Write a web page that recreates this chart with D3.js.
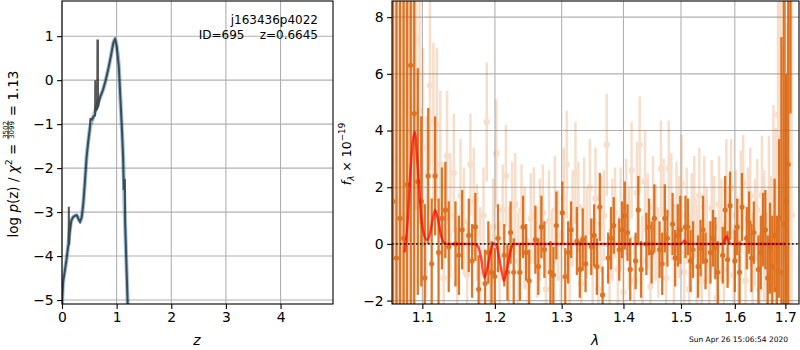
<!DOCTYPE html>
<html>
<head>
<meta charset="utf-8">
<script src="https://cdn.jsdelivr.net/npm/d3@7"></script>
<style>
  body { margin: 0; background: #fff; }
  text { font-family: 'DejaVu Sans', sans-serif; }
</style>
</head>
<body>
<svg id="fig" width="800" height="350"></svg>
<script>
// ---- left panel: log p(z) ----
const pzZ = [0, 0.02, 0.05, 0.08, 0.11, 0.14, 0.17, 0.2, 0.24, 0.27, 0.3, 0.33, 0.36, 0.39, 0.42, 0.45, 0.48, 0.51,
  0.55, 0.6, 0.65, 0.7, 0.75, 0.8, 0.85, 0.9, 0.94, 0.97, 1.0, 1.04, 1.07, 1.1, 1.12, 1.15, 1.18, 1.21];
const pzSmooth = [-5.1, -4.6, -4.35, -4.1, -3.8, -3.45, -3.2, -3.12, -3.08, -3.07, -3.15, -3.22, -3.12, -2.8, -2.3, -1.75, -1.4, -1.1,
  -0.92, -0.74, -0.55, -0.38, -0.22, 0.0, 0.27, 0.58, 0.85, 0.93, 0.78, 0.31, -0.45, -1.2, -1.81, -3.1, -4.23, -5.4];
const chiZ = [0, 0.02, 0.05, 0.08, 0.11, 0.12, 0.125, 0.13, 0.14, 0.17, 0.2, 0.24, 0.27, 0.3, 0.33, 0.36, 0.39, 0.42, 0.45, 0.48,
  0.51, 0.52, 0.53, 0.55, 0.58, 0.605, 0.608, 0.615, 0.645, 0.648, 0.658, 0.66, 0.68, 0.7, 0.75, 0.8, 0.85, 0.9, 0.94, 0.97,
  1.0, 1.04, 1.07, 1.1, 1.12, 1.13, 1.135, 1.15, 1.155, 1.18, 1.21];
const chiLogp = [-5.1, -4.6, -4.35, -4.1, -3.8, -3.75, -2.88, -3.75, -3.48, -3.2, -3.12, -3.08, -3.07, -3.15, -3.22, -3.12, -2.8, -2.3, -1.75, -1.4,
  -1.1, -0.86, -0.9, -0.9, -0.82, -0.8, 0.0, -0.7, -0.65, 0.9, 0.9, -0.62, -0.48, -0.38, -0.22, 0.0, 0.27, 0.58, 0.85, 0.93,
  0.78, 0.31, -0.45, -1.2, -1.81, -2.5, -2.27, -2.27, -3.2, -4.23, -5.4];
const zTicks = [0, 1, 2, 3, 4];
const pTicks = [-5, -4, -3, -2, -1, 0, 1];

// ---- right panel: spectrum ----
const darkLam = [1.0618, 1.0664, 1.0710, 1.0756, 1.0802, 1.0848, 1.0894, 1.0940, 1.0986, 1.1032,
  1.1078, 1.1124, 1.1170, 1.1216, 1.1262, 1.1308, 1.1354, 1.1446, 1.1492, 1.1538,
  1.1630, 1.1676, 1.1722, 1.1768, 1.1860, 1.1906, 1.1952, 1.1998, 1.2044, 1.2136,
  1.2182, 1.2228, 1.2274, 1.2366, 1.2412, 1.2458, 1.2504, 1.2596, 1.2642, 1.2688,
  1.2734, 1.2826, 1.2872, 1.2918, 1.3010, 1.3056, 1.3102, 1.3148, 1.3240, 1.3286,
  1.3332, 1.3378, 1.3470, 1.3516, 1.3562, 1.3608, 1.3654, 1.3746, 1.3792, 1.3838,
  1.3930, 1.3976, 1.4022, 1.4068, 1.4114, 1.4206, 1.4252, 1.4298, 1.4390, 1.4436,
  1.4482, 1.4528, 1.4620, 1.4666, 1.4712, 1.4758, 1.4850, 1.4896, 1.4942, 1.4988,
  1.5080, 1.5126, 1.5172, 1.5218, 1.5310, 1.5356, 1.5402, 1.5448, 1.5540, 1.5586,
  1.5632, 1.5678, 1.5770, 1.5816, 1.5862, 1.5908, 1.6000, 1.6046, 1.6092, 1.6138,
  1.6230, 1.6276, 1.6322, 1.6368, 1.6460, 1.6506, 1.6552, 1.6598, 1.6644, 1.6690,
  1.6736, 1.6782, 1.6828, 1.6874, 1.6920, 1.6966, 1.7012, 1.7058, 1.7104];
const darkFlux = [1.5, -0.5, 0.9, 0.2, 2.1, 6.3, 4.6, 2.2, 1.5, -1.2,
  2.4, -0.7, 2.4, -0.3, 0.9, 1.2, -0.1, 0.0, -0.4, 0.5,
  0.3, -0.6, 0.6, -1.6, -1.4, -0.3, -1.0, -1.15, 0.2, -0.4,
  -1.0, 0.4, -1.0, -1.0, 0.6, -0.3, -1.3, 0.15, -0.8, 0.6,
  -0.2, -1.0, -1.1, 0.65, 1.1, -1.15, -0.3, 0.5, 0.1, -0.9,
  0.15, -0.7, -0.1, 0.3, -0.8, 1.3, -1.8, -0.5, 0.2, 0.65,
  -0.2, 0.5, 1.0, 0.4, -0.9, -0.6, 1.2, -0.9, 0.0, 0.6,
  -0.3, 0.9, -0.2, -0.7, 0.9, 0.2, 0.7, -0.5, 0.3, 0.5,
  0.6, 0.6, -0.6, -0.2, -0.8, -0.15, 0.5, -0.6, -0.3, 0.2,
  -0.15, -1.0, -0.4, 1.2, -0.55, 1.35, -0.6, 0.6, -1.0, 1.3,
  0.2, 0.75, -0.5, 0.4, -0.9, -0.3, 0.5, 0.5, -1.2, -0.15,
  -0.8, 0.3, -1.6, 0.9, -1.0, 0.7, 1.5, 2.8, 10.5];
const darkErr = [12, 12, 12, 11, 10, 9, 7, 4, 3, 2.6,
  2.4, 2.3, 2.1, 1.9, 1.8, 1.7, 1.6, 1.5, 1.4, 1.4,
  1.3, 1.3, 1.2, 1.2, 1.2, 1.1, 1.1, 1.0, 1.2, 1.1,
  1.0, 1.1, 1.2, 1.0, 1.1, 1.0, 1.1, 1.2, 1.0, 1.1,
  1.0, 1.1, 1.0, 1.2, 1.1, 1.0, 1.1, 1.0, 1.2, 1.0,
  1.1, 1.0, 1.0, 1.1, 1.0, 1.2, 1.0, 0.9, 1.1, 1.0,
  1.1, 1.0, 1.2, 1.0, 1.1, 1.0, 1.2, 1.0, 1.1, 1.0,
  1.1, 1.2, 1.0, 1.1, 1.2, 1.0, 1.1, 1.0, 1.1, 1.2,
  1.1, 1.0, 1.1, 1.0, 1.1, 1.0, 1.2, 1.0, 1.1, 1.0,
  1.1, 1.1, 1.0, 1.2, 1.0, 1.2, 1.1, 1.0, 1.1, 1.2,
  1.1, 1.1, 1.2, 1.1, 1.2, 1.3, 1.3, 1.4, 1.5, 1.6,
  1.8, 2.0, 2.6, 2.8, 8.3, 9, 4.5, 9, 5.9];

const lightLam = [1.0641, 1.0687,
  1.0733, 1.0779, 1.0825, 1.0871, 1.0917, 1.0963, 1.1009, 1.1055, 1.1101, 1.1147,
  1.1193, 1.1239, 1.1285, 1.1331, 1.1377, 1.1423, 1.1469, 1.1515, 1.1561, 1.1607,
  1.1653, 1.1699, 1.1745, 1.1791, 1.1837, 1.1883, 1.1929, 1.1975, 1.2021, 1.2067,
  1.2113, 1.2159, 1.2205, 1.2251, 1.2297, 1.2343, 1.2389, 1.2435, 1.2481, 1.2527,
  1.2573, 1.2619, 1.2665, 1.2711, 1.2757, 1.2803, 1.2849, 1.2895, 1.2941, 1.2987,
  1.3033, 1.3079, 1.3125, 1.3171, 1.3217, 1.3263, 1.3309, 1.3355, 1.3401, 1.3447,
  1.3493, 1.3539, 1.3585, 1.3631, 1.3677, 1.3723, 1.3769, 1.3815, 1.3861, 1.3907,
  1.3953, 1.3999, 1.4045, 1.4091, 1.4137, 1.4183, 1.4229, 1.4275, 1.4321, 1.4367,
  1.4413, 1.4459, 1.4505, 1.4551, 1.4597, 1.4643, 1.4689, 1.4735, 1.4781, 1.4827,
  1.4873, 1.4919, 1.4965, 1.5011, 1.5057, 1.5103, 1.5149, 1.5195, 1.5241, 1.5287,
  1.5333, 1.5379, 1.5425, 1.5471, 1.5517, 1.5563, 1.5609, 1.5655, 1.5701, 1.5747,
  1.5793, 1.5839, 1.5885, 1.5931, 1.5977, 1.6023, 1.6069, 1.6115, 1.6161, 1.6207,
  1.6253, 1.6299, 1.6345, 1.6391, 1.6437, 1.6483, 1.6529, 1.6575, 1.6621, 1.6667,
  1.6713, 1.6759, 1.6805, 1.6851, 1.6897, 1.6943, 1.6989, 1.7035, 1.7081, 1.7127];
const lightFlux = [3.0, 6.0,
  5.0, 5.3, 8.1, 4.9, 7.2, 4.7, 3.4, 1.3, 5.6, 4.3,
  4.2, 2.8, -1.2, 3.1, 1.0, 2.5, -1.4, 1.7, 0.8, -1.1,
  2.8, 1.5, 0.4, -0.5, 1.0, 4.3, -1.3, 0.6, 3.2, -0.9,
  1.2, 2.4, -0.4, 1.3, 1.4, -0.6, 1.2, 0.2, -1.5, 0.9,
  1.0, -0.3, 0.5, 1.1, -1.6, 0.8, -0.5, 1.2, 0.3, -1.2,
  1.6, 2.8, -0.7, 0.9, 2.5, 1.3, -1.4, 1.25, 0.4, 2.0,
  -0.8, 1.6, -1.6, 0.7, 1.0, 3.5, -1.15, 0.5, 1.1, -0.9,
  0.9, -1.7, 1.3, 0.2, 2.6, -1.3, 1.8, 3.5, -0.6, 2.2,
  0.8, -1.5, 1.3, 0.4, -0.3, 2.65, 1.2, -1.2, 2.65, 1.4,
  -0.5, 1.3, 0.6, 2.15, -1.0, 1.0, -1.6, 0.8, 1.5, -0.4,
  1.7, -1.3, 1.3, 0.3, -0.8, 1.26, 0.6, -1.9, 1.4, 0.5,
  -0.9, 1.9, 0.2, 2.0, -1.1, 1.0, -0.5, 1.5, 2.15, -1.3,
  0.9, 1.7, -0.7, 0.4, 1.2, -1.6, 1.72, 0.3, -1.4, 1.0,
  -0.6, 1.6, 0.5, 4.55, 5.4, 2.0, 5.5, 0.8, 3.0, 1.0];
const lightErr = [10, 10,
  10, 9, 8, 7, 6, 4, 3.5, 3.2, 3.0, 2.8,
  2.7, 2.6, 2.4, 2.3, 2.2, 2.1, 2.0, 2.0, 1.9, 1.9,
  1.8, 1.9, 1.7, 1.8, 1.7, 2.1, 1.8, 1.7, 1.9, 1.7,
  1.6, 1.8, 1.7, 1.6, 1.8, 1.7, 1.6, 1.8, 1.7, 1.6,
  1.7, 1.6, 1.8, 1.7, 1.6, 1.8, 1.7, 1.9, 1.6, 1.7,
  1.8, 1.9, 1.6, 1.7, 1.8, 1.6, 1.7, 1.8, 1.6, 1.7,
  1.7, 1.8, 1.6, 1.7, 1.6, 1.8, 1.7, 1.8, 1.6, 1.7,
  1.8, 1.6, 1.7, 1.8, 1.7, 1.6, 1.8, 1.7, 1.6, 1.8,
  1.7, 1.6, 1.8, 1.7, 1.6, 1.7, 1.8, 1.6, 1.7, 1.8,
  1.7, 1.6, 1.8, 1.7, 1.6, 1.7, 1.8, 1.7, 1.6, 1.8,
  1.7, 1.6, 1.8, 1.7, 1.6, 1.7, 1.8, 1.6, 1.7, 1.8,
  1.7, 1.8, 1.6, 1.7, 1.8, 1.6, 1.7, 1.8, 1.7, 1.6,
  1.8, 1.7, 1.8, 1.9, 1.8, 2.0, 2.1, 2.3, 2.5, 2.8,
  3.0, 3.3, 3.6, 4.0, 4.5, 5.0, 6.0, 7.0, 8.0, 9.0];

const modelLam = [1.077, 1.081, 1.085, 1.090, 1.094, 1.098, 1.102, 1.106, 1.110, 1.114, 1.117, 1.121, 1.125, 1.130, 1.135,
  1.171, 1.176, 1.180, 1.185, 1.190, 1.195, 1.198, 1.202, 1.206, 1.210, 1.213, 1.218, 1.223, 1.228, 1.233,
  1.500, 1.503, 1.506, 1.509, 1.512, 1.577, 1.580, 1.584, 1.588, 1.592, 1.700];
const modelFlux = [-0.3, 0.9, 2.8, 3.95, 2.7, 1.1, 0.35, 0.15, 0.35, 0.9, 1.2, 0.85, 0.3, 0.02, 0,
  0, -0.1, -0.45, -1.2, -0.75, -0.15, 0.02, -0.05, -0.45, -1.0, -1.3, -0.8, -0.2, 0.0, 0,
  0, 0.05, 0.12, 0.05, 0, 0, 0.1, 0.27, 0.12, 0, 0];
const lamTicks = [1.1, 1.2, 1.3, 1.4, 1.5, 1.6, 1.7];
const fluxTicks = [-2, 0, 2, 4, 6, 8];

const FS = 13.9;
const GRID = '#b0b0b0';
const ORANGE = '#d95f02';
const svg = d3.select('#fig');
const defs = svg.append('defs');

function clip(id, x0, y0, x1, y1) {
  defs.append('clipPath').attr('id', id)
    .append('rect').attr('x', x0).attr('y', y0).attr('width', x1 - x0).attr('height', y1 - y0);
}

function drawGrid(g, x, y, xt, yt, box) {
  g.selectAll('.gx').data(xt).enter().append('line')
    .attr('x1', d => x(d)).attr('x2', d => x(d)).attr('y1', box.y0).attr('y2', box.y1)
    .attr('stroke', GRID).attr('stroke-width', 1.1);
  g.selectAll('.gy').data(yt).enter().append('line')
    .attr('x1', box.x0).attr('x2', box.x1).attr('y1', d => y(d)).attr('y2', d => y(d))
    .attr('stroke', GRID).attr('stroke-width', 1.1);
}

function styleAxis(g) {
  g.select('.domain').remove();
  g.selectAll('.tick line').attr('stroke', '#000').attr('stroke-width', 1.1);
  g.selectAll('.tick text').attr('font-size', FS).attr('fill', '#000')
    .attr('font-family', 'DejaVu Sans');
}

function drawAxes(x, y, xt, yt, box, xfmt, yfmt) {
  svg.append('g').attr('transform', `translate(0,${box.y1})`)
    .call(d3.axisBottom(x).tickValues(xt).tickFormat(xfmt).tickSize(4.9).tickPadding(3.5))
    .call(styleAxis);
  svg.append('g').attr('transform', `translate(${box.x0},0)`)
    .call(d3.axisLeft(y).tickValues(yt).tickFormat(yfmt).tickSize(4.9).tickPadding(3.5))
    .call(styleAxis);
  svg.append('rect').attr('x', box.x0).attr('y', box.y0)
    .attr('width', box.x1 - box.x0).attr('height', box.y1 - box.y0)
    .attr('fill', 'none').attr('stroke', '#000').attr('stroke-width', 1.1);
}

// ===== left panel =====
const L = { x0: 62, x1: 333, y0: 1, y1: 304 };
const xz = d3.scaleLinear().domain([0, 4.96]).range([L.x0, L.x1]);
const yp = d3.scaleLinear().domain([-5.09, 1.8]).range([L.y1, L.y0]);
clip('clipL', L.x0, L.y0, L.x1, L.y1);

drawGrid(svg.append('g'), xz, yp, zTicks, pTicks, L);
const gl = svg.append('g').attr('clip-path', 'url(#clipL)');
gl.append('path')
  .datum(pzZ.map((z, i) => [z, pzSmooth[i]]))
  .attr('d', d3.line().x(d => xz(d[0])).y(d => yp(d[1])).curve(d3.curveMonotoneX))
  .attr('fill', 'none').attr('stroke', '#1f77b4').attr('stroke-opacity', 0.45).attr('stroke-width', 4);
gl.append('path')
  .datum(chiZ.map((z, i) => [z, chiLogp[i]]))
  .attr('d', d3.line().x(d => xz(d[0])).y(d => yp(d[1])))
  .attr('fill', 'none').attr('stroke', '#222').attr('stroke-opacity', 0.75).attr('stroke-width', 2);
drawAxes(xz, yp, zTicks, pTicks, L, d3.format('d'), d3.format('d'));

svg.append('text').attr('x', 318).attr('y', 24).attr('text-anchor', 'end')
  .attr('font-size', 12).text('j163436p4022');
svg.append('text').attr('x', 318).attr('y', 39).attr('text-anchor', 'end')
  .attr('font-size', 12).style('white-space', 'pre').text('ID=695    z=0.6645');

svg.append('text').attr('x', 197).attr('y', 345).attr('text-anchor', 'middle')
  .attr('font-size', FS).attr('font-style', 'italic').text('z');

// y label with the chi-square fraction
const LFS = 13.5;
const yl = svg.append('g');
const t1 = yl.append('text').attr('font-size', LFS).style('white-space', 'pre');
t1.append('tspan').text('log ');
t1.append('tspan').attr('font-style', 'italic').text('p');
t1.append('tspan').text('(z) / ');
t1.append('tspan').attr('font-style', 'italic').text('χ');
t1.append('tspan').attr('font-size', 9.4).attr('dy', -5.5).text('2');
t1.append('tspan').attr('dy', 5.5).text(' = ');
const w1 = t1.node().getComputedTextLength();
const num = yl.append('text').attr('font-size', 7).attr('text-anchor', 'middle').text('3502');
const den = yl.append('text').attr('font-size', 7).attr('text-anchor', 'middle').text('3099');
const fw = Math.max(num.node().getComputedTextLength(), den.node().getComputedTextLength()) + 1;
num.attr('x', w1 + fw / 2).attr('y', -10);
den.attr('x', w1 + fw / 2).attr('y', -3.7);
yl.append('line').attr('x1', w1).attr('x2', w1 + fw).attr('y1', -9.3).attr('y2', -9.3)
  .attr('stroke', '#000').attr('stroke-width', 0.7);
const t3 = yl.append('text').attr('font-size', LFS).attr('x', w1 + fw).style('white-space', 'pre').text(' = 1.13');
const wTot = w1 + fw + t3.node().getComputedTextLength();
yl.attr('transform', `translate(17.5,${154 + wTot / 2}) rotate(-90)`);

// ===== right panel =====
const R = { x0: 392, x1: 799, y0: 1, y1: 304 };
const xl = d3.scaleLog().domain([1.0607, 1.728]).range([R.x0, R.x1]);
const yf = d3.scaleLinear().domain([-2.12, 8.57]).range([R.y1, R.y0]);
clip('clipR', R.x0, R.y0, R.x1, R.y1);

drawGrid(svg.append('g'), xl, yf, lamTicks, fluxTicks, R);
const gr = svg.append('g').attr('clip-path', 'url(#clipR)');

function errorbars(lam, flux, err, opacity, r, width) {
  const pts = lam.map((l, i) => ({ l, f: flux[i], e: err[i] }));
  const g = gr.append('g').attr('opacity', opacity);
  g.selectAll('line').data(pts).enter().append('line')
    .attr('x1', d => xl(d.l)).attr('x2', d => xl(d.l))
    .attr('y1', d => yf(d.f - d.e)).attr('y2', d => yf(d.f + d.e))
    .attr('stroke', ORANGE).attr('stroke-width', width);
  g.selectAll('circle').data(pts).enter().append('circle')
    .attr('cx', d => xl(d.l)).attr('cy', d => yf(d.f)).attr('r', r)
    .attr('fill', ORANGE);
}
errorbars(lightLam, lightFlux, lightErr, 0.2, 3.2, 2.5);
errorbars(darkLam, darkFlux, darkErr, 0.85, 2.6, 2.3);

gr.append('path')
  .datum(modelLam.map((l, i) => [l, modelFlux[i]]))
  .attr('d', d3.line().x(d => xl(d[0])).y(d => yf(d[1])).curve(d3.curveMonotoneX))
  .attr('fill', 'none').attr('stroke', 'red').attr('stroke-opacity', 0.7).attr('stroke-width', 2.5);
gr.append('line').attr('x1', R.x0).attr('x2', R.x1).attr('y1', yf(0)).attr('y2', yf(0))
  .attr('stroke', '#000').attr('stroke-width', 1.6).attr('stroke-dasharray', '1.6,2.4').attr('stroke-opacity', 0.8);

drawAxes(xl, yf, lamTicks, fluxTicks, R, d3.format('.1f'), d3.format('d'));

svg.append('text').attr('x', 595).attr('y', 345).attr('text-anchor', 'middle')
  .attr('font-size', FS).attr('font-style', 'italic').text('λ');

const yr = svg.append('text').attr('font-size', 12.5).attr('text-anchor', 'middle')
  .attr('transform', 'translate(351,154) rotate(-90)');
yr.append('tspan').attr('font-style', 'italic').text('f');
yr.append('tspan').attr('font-size', 8.8).attr('font-style', 'italic').attr('dy', 3).text('λ');
yr.append('tspan').attr('dy', -3).text(' × 10');
yr.append('tspan').attr('font-size', 8.8).attr('dy', -6).text('−19');

svg.append('text').attr('x', 788).attr('y', 342).attr('text-anchor', 'end')
  .attr('font-size', 7.5).text('Sun Apr 26 15:06:54 2020');
</script>
</body>
</html>
